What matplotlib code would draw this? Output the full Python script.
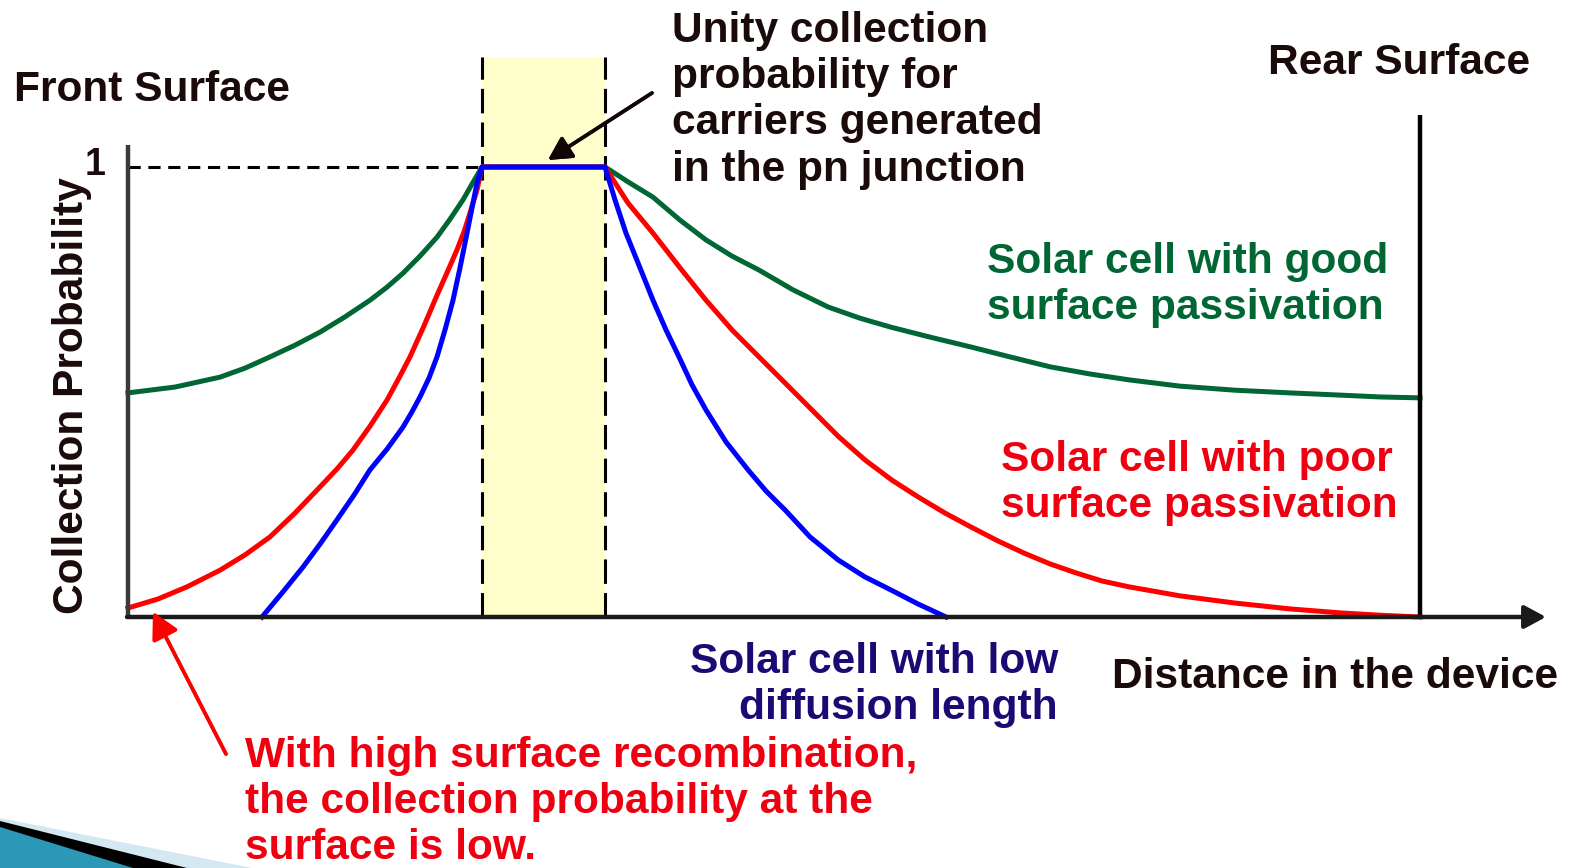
import matplotlib
matplotlib.use("Agg")
import matplotlib.pyplot as plt
from matplotlib.patches import Polygon, Rectangle

W, H = 1576, 868

# position in the device (a.u.): 0 = front surface, 1292 = rear surface
rear = 1292
junction = [354, 477]

# collection probability curves
good_x = [0, 47, 92, 117, 142, 167, 192, 217, 242, 259, 275, 292, 309, 322, 335, 344, 354,
          477, 500, 525, 552, 578, 604, 631, 665, 700, 732, 763, 802, 843, 882, 922, 962,
          1001, 1052, 1107, 1162, 1213, 1252, 1292]
good_p = [0.498, 0.511, 0.533, 0.553, 0.578, 0.604, 0.633, 0.667, 0.704, 0.733, 0.764,
          0.802, 0.844, 0.884, 0.927, 0.962, 1.0,
          1.0, 0.967, 0.933, 0.882, 0.838, 0.802, 0.771, 0.727, 0.689, 0.664, 0.644, 0.622,
          0.600, 0.578, 0.556, 0.540, 0.527, 0.513, 0.504, 0.498, 0.493, 0.489, 0.487]

poor_x = [0, 30, 59, 92, 117, 142, 167, 192, 209, 225, 242, 259, 270, 282, 296, 309, 319,
          329, 336, 342, 349, 354,
          477, 500, 525, 552, 578, 604, 631, 658, 684, 710, 737, 764, 790, 817, 843, 870,
          896, 922, 948, 974, 1001, 1052, 1107, 1162, 1213, 1252, 1292]
poor_p = [0.020, 0.040, 0.067, 0.104, 0.138, 0.178, 0.231, 0.289, 0.329, 0.371, 0.424,
          0.482, 0.527, 0.578, 0.647, 0.715, 0.765, 0.816, 0.856, 0.898, 0.949, 1.0,
          1.0, 0.920, 0.853, 0.776, 0.704, 0.638, 0.578, 0.518, 0.460, 0.402, 0.349, 0.304,
          0.267, 0.231, 0.200, 0.169, 0.142, 0.118, 0.098, 0.080, 0.067, 0.047, 0.031,
          0.018, 0.009, 0.004, 0.0]

low_x = [134, 155, 175, 192, 209, 226, 242, 259, 275, 284, 292, 301, 309, 317, 325, 332,
         339, 344, 349, 354,
         477, 487, 498, 512, 525, 538, 551, 564, 578, 598, 620, 638, 657, 682, 710, 737,
         763, 790, 818]
low_p = [0, 0.056, 0.111, 0.162, 0.216, 0.271, 0.327, 0.373, 0.422, 0.456, 0.489, 0.531,
         0.578, 0.638, 0.704, 0.776, 0.853, 0.909, 0.964, 1.0,
         1.0, 0.927, 0.853, 0.776, 0.704, 0.638, 0.578, 0.516, 0.460, 0.389, 0.327, 0.280,
         0.238, 0.178, 0.127, 0.089, 0.060, 0.029, 0.0]

GREEN = "#006633"
RED = "#ff0000"
TRED = "#ee0011"
BLUE = "#0000ff"
NAVY = "#1a0a73"
INK = "#1a0a0a"

plt.rcParams["font.family"] = ["Liberation Sans", "DejaVu Sans"]

fig = plt.figure(figsize=(W / 100, H / 100), dpi=100)
ax = fig.add_axes([0, 0, 1, 1])
# frame placed where it sits in the picture
ax.set_xlim(-128, W - 128)
ax.set_ylim((617 - H) / 450, 617 / 450)
ax.axis("off")


def fp(x, y):
    # figure pixel -> figure fraction
    return (x / W, 1 - y / H)


# junction band
ax.add_patch(Rectangle((junction[0], 0), junction[1] - junction[0], 1.244,
                       facecolor="#ffffcc", edgecolor="none", zorder=1))
for jx in junction:
    ax.plot([jx, jx], [0, 1.244], color="black", lw=2.2, ls=(0, (8, 3)), zorder=2)

# dashed line at probability 1
ax.plot([0, junction[0]], [1, 1], color="black", lw=2.2, ls=(0, (4, 2.5)), zorder=2)

# curves
ax.plot(good_x, good_p, color=GREEN, lw=3.6, zorder=4, solid_joinstyle="round")
ax.plot(poor_x, poor_p, color=RED, lw=3.6, zorder=5, solid_joinstyle="round")
ax.plot(low_x, low_p, color=BLUE, lw=3.6, zorder=6, solid_joinstyle="round")

# front surface axis, rear surface, distance axis
ax.plot([0, 0], [0, 1.05], color="#3a3a3a", lw=3.2, zorder=7, solid_capstyle="butt")
ax.plot([rear, rear], [0, 1.116], color="black", lw=3.2, zorder=7, solid_capstyle="butt")
ax.annotate("", xy=(1418, 0), xytext=(-1, 0), zorder=7,
            arrowprops=dict(arrowstyle="-|>,head_length=1.3,head_width=0.7",
                            color="#1a1a1a", lw=3.2, shrinkA=0, shrinkB=0))

fs = 30.6
bold = dict(fontsize=fs, fontweight="bold", transform=fig.transFigure, va="top",
            linespacing=1.2)

fig.text(*fp(14, 70), "Front Surface", color=INK, **bold)
fig.text(*fp(1268, 43), "Rear Surface", color=INK, **bold)
fig.text(*fp(106, 147), "1", color=INK, ha="right", fontsize=27,
         fontweight="bold", transform=fig.transFigure, va="top")
fig.text(*fp(72, 396), "Collection Probability", color=INK, rotation=90,
         ha="center", va="center", fontsize=fs, fontweight="bold",
         transform=fig.transFigure)
fig.text(*fp(672, 11), "Unity collection\nprobability for\ncarriers generated\nin the pn junction",
         color=INK, **bold)
fig.text(*fp(987, 242), "Solar cell with good\nsurface passivation", color=GREEN, **bold)
fig.text(*fp(1001, 440), "Solar cell with poor\nsurface passivation", color=TRED, **bold)
fig.text(*fp(1058, 642), "Solar cell with low\ndiffusion length", color=NAVY,
         ha="right", multialignment="right", **bold)
fig.text(*fp(1112, 657), "Distance in the device", color=INK, **bold)
fig.text(*fp(245, 736), "With high surface recombination,\nthe collection probability at the\nsurface is low.",
         color=TRED, **bold)

# pointer arrows
fig.add_artist(plt.annotate("", xy=fp(548, 160), xytext=fp(652, 93),
                            xycoords="figure fraction", textcoords="figure fraction",
                            arrowprops=dict(arrowstyle="-|>,head_length=1.4,head_width=0.75",
                                            color="#120505", lw=2.6, shrinkA=0, shrinkB=0)))
fig.add_artist(plt.annotate("", xy=fp(153, 612), xytext=fp(226, 754),
                            xycoords="figure fraction", textcoords="figure fraction",
                            arrowprops=dict(arrowstyle="-|>,head_length=1.6,head_width=0.85",
                                            color=RED, lw=2.6, shrinkA=0, shrinkB=0)))

# slide corner decoration
for pts, col in [([(0, 818), (252, 868), (0, 868)], "#d3e8f0"),
                 ([(0, 821), (187, 868), (0, 868)], "black"),
                 ([(0, 827), (133, 868), (0, 868)], "#2a98b6")]:
    fig.add_artist(Polygon([fp(x, y) for x, y in pts], closed=True,
                           transform=fig.transFigure, facecolor=col, edgecolor="none"))

fig.savefig("out.png", dpi=100)
